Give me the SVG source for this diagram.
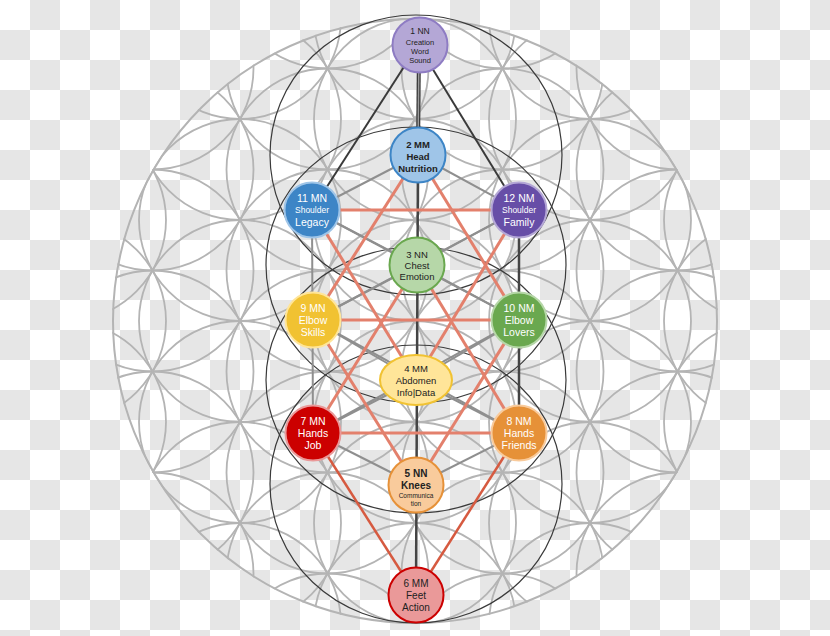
<svg xmlns="http://www.w3.org/2000/svg" width="830" height="636" viewBox="0 0 830 636">
<defs>
<pattern id="checker" x="0" y="0" width="60" height="60" patternUnits="userSpaceOnUse">
<rect x="0" y="0" width="60" height="60" fill="#ffffff"/>
<rect x="30" y="0" width="30" height="30" fill="#e6e6e6"/>
<rect x="0" y="30" width="30" height="30" fill="#e6e6e6"/>
</pattern>
<clipPath id="bound"><circle cx="415" cy="321" r="303"/></clipPath>
<style>
.fl circle{fill:none;stroke:#b4b4b4;stroke-width:1.8}
.dk{fill:none;stroke:#3a3a3a;stroke-width:1.2}
.cd{stroke:#444;stroke-width:2.5}
.cg{stroke:#8f8f8f;stroke-width:2}
.cs{stroke:#e3806c;stroke-width:3}
.cr{stroke:#d65a40;stroke-width:2.5}
text{font-family:"Liberation Sans","Open Sans",sans-serif;text-anchor:middle}
.w{fill:#ffffff}
.b{fill:#222222}
.bb{fill:#222222;font-weight:bold}
</style>
</defs>
<rect width="830" height="636" fill="url(#checker)"/>
<g id="flower" class="fl" clip-path="url(#bound)">
<circle cx="415" cy="18" r="101"/><circle cx="415" cy="119" r="101"/><circle cx="415" cy="220" r="101"/><circle cx="415" cy="321" r="101"/><circle cx="415" cy="422" r="101"/><circle cx="415" cy="523" r="101"/><circle cx="415" cy="624" r="101"/>
<circle cx="327.5" cy="-32.5" r="101"/><circle cx="327.5" cy="68.5" r="101"/><circle cx="327.5" cy="169.5" r="101"/><circle cx="327.5" cy="270.5" r="101"/><circle cx="327.5" cy="371.5" r="101"/><circle cx="327.5" cy="472.5" r="101"/><circle cx="327.5" cy="573.5" r="101"/><circle cx="327.5" cy="674.5" r="101"/>
<circle cx="502.5" cy="-32.5" r="101"/><circle cx="502.5" cy="68.5" r="101"/><circle cx="502.5" cy="169.5" r="101"/><circle cx="502.5" cy="270.5" r="101"/><circle cx="502.5" cy="371.5" r="101"/><circle cx="502.5" cy="472.5" r="101"/><circle cx="502.5" cy="573.5" r="101"/><circle cx="502.5" cy="674.5" r="101"/>
<circle cx="240" cy="18" r="101"/><circle cx="240" cy="119" r="101"/><circle cx="240" cy="220" r="101"/><circle cx="240" cy="321" r="101"/><circle cx="240" cy="422" r="101"/><circle cx="240" cy="523" r="101"/><circle cx="240" cy="624" r="101"/>
<circle cx="590" cy="18" r="101"/><circle cx="590" cy="119" r="101"/><circle cx="590" cy="220" r="101"/><circle cx="590" cy="321" r="101"/><circle cx="590" cy="422" r="101"/><circle cx="590" cy="523" r="101"/><circle cx="590" cy="624" r="101"/>
<circle cx="152.5" cy="68.5" r="101"/><circle cx="152.5" cy="169.5" r="101"/><circle cx="152.5" cy="270.5" r="101"/><circle cx="152.5" cy="371.5" r="101"/><circle cx="152.5" cy="472.5" r="101"/><circle cx="152.5" cy="573.5" r="101"/>
<circle cx="677.5" cy="68.5" r="101"/><circle cx="677.5" cy="169.5" r="101"/><circle cx="677.5" cy="270.5" r="101"/><circle cx="677.5" cy="371.5" r="101"/><circle cx="677.5" cy="472.5" r="101"/><circle cx="677.5" cy="573.5" r="101"/>
<circle cx="65" cy="220" r="101"/><circle cx="65" cy="321" r="101"/><circle cx="65" cy="422" r="101"/>
<circle cx="765" cy="220" r="101"/><circle cx="765" cy="321" r="101"/><circle cx="765" cy="422" r="101"/>
</g>
<circle cx="415" cy="321" r="302" fill="none" stroke="#b4b4b4" stroke-width="2"/>
<g id="dark-circles">
<ellipse class="dk" cx="416" cy="155" rx="146" ry="140"/>
<ellipse class="dk" cx="416" cy="265" rx="150" ry="138"/>
<ellipse class="dk" cx="416" cy="380" rx="150" ry="133"/>
<ellipse class="dk" cx="416" cy="484" rx="146" ry="139"/>
</g>
<g id="connectors">
<line class="cg" x1="418" y1="155" x2="312" y2="210"/>
<line class="cg" x1="418" y1="155" x2="519" y2="210"/>
<line class="cg" x1="312" y1="210" x2="417" y2="265"/>
<line class="cg" x1="519" y1="210" x2="417" y2="265"/>
<line class="cg" x1="417" y1="265" x2="313" y2="320"/>
<line class="cg" x1="417" y1="265" x2="519" y2="320"/>
<line class="cg" x1="313" y1="320" x2="416" y2="380"/>
<line class="cg" x1="519" y1="320" x2="416" y2="380"/>
<line class="cg" x1="416" y1="380" x2="313" y2="433"/>
<line class="cg" x1="416" y1="380" x2="519" y2="433"/>
<line class="cg" x1="313" y1="433" x2="416" y2="485"/>
<line class="cg" x1="519" y1="433" x2="416" y2="485"/>
<line class="cg" x1="312" y1="210" x2="519" y2="320"/>
<line class="cg" x1="519" y1="210" x2="313" y2="320"/>
<line class="cg" x1="313" y1="320" x2="519" y2="433"/>
<line class="cg" x1="519" y1="320" x2="313" y2="433"/>
<line class="cg" x1="312" y1="210" x2="313" y2="433"/>
<line class="cd" x1="519" y1="210" x2="519" y2="433"/>
<line stroke="#3a3a3a" stroke-width="4" x1="419" y1="45" x2="418" y2="155"/>
<line stroke="#9a9a9a" stroke-width="1.4" x1="419" y1="45" x2="418" y2="155"/>
<line class="cd" x1="418" y1="155" x2="416" y2="595"/>
<line class="dk" style="stroke-width:2" x1="418" y1="45" x2="312" y2="210"/>
<line class="dk" style="stroke-width:2" x1="418" y1="45" x2="519" y2="210"/>
<line class="cs" x1="312" y1="210" x2="519" y2="210"/>
<line class="cs" x1="313" y1="320" x2="519" y2="320"/>
<line class="cs" x1="313" y1="433" x2="519" y2="433"/>
<line class="cs" x1="312" y1="210" x2="416" y2="380"/>
<line class="cs" x1="519" y1="210" x2="416" y2="380"/>
<line class="cs" x1="418" y1="155" x2="313" y2="320"/>
<line class="cs" x1="418" y1="155" x2="519" y2="320"/>
<line class="cs" x1="313" y1="320" x2="416" y2="485"/>
<line class="cs" x1="519" y1="320" x2="416" y2="485"/>
<line class="cs" x1="313" y1="433" x2="417" y2="265"/>
<line class="cs" x1="519" y1="433" x2="417" y2="265"/>
<line class="cr" x1="313" y1="433" x2="416" y2="595"/>
<line class="cr" x1="519" y1="433" x2="416" y2="595"/>
</g>
<g id="n1"><circle cx="420" cy="45" r="27.5" fill="#b4a7d6" stroke="#8e7cc3" stroke-width="2"/>
<text class="b" x="420" y="34" font-size="8.5">1 NN</text><text class="b" x="420" y="45" font-size="7.5">Creation</text><text class="b" x="420" y="54" font-size="7.5">Word</text><text class="b" x="420" y="63" font-size="7.5">Sound</text></g>
<g id="n2"><circle cx="418" cy="155" r="27.5" fill="#9fc5e8" stroke="#3d85c6" stroke-width="2"/>
<text class="bb" x="418" y="148" font-size="9.5">2 MM</text><text class="bb" x="418" y="160" font-size="9.5">Head</text><text class="bb" x="418" y="172" font-size="9.5">Nutrition</text></g>
<g id="n11"><circle cx="312" cy="210" r="27.5" fill="#3d85c6" stroke="#9fc5e8" stroke-width="2"/>
<text class="w" x="312" y="202" font-size="10.5">11 MN</text><text class="w" x="312" y="213" font-size="8.5">Shoulder</text><text class="w" x="312" y="226" font-size="10.5">Legacy</text></g>
<g id="n12"><circle cx="519" cy="210" r="27.5" fill="#674ea7" stroke="#b4a7d6" stroke-width="2"/>
<text class="w" x="519" y="202" font-size="10.5">12 NM</text><text class="w" x="519" y="213" font-size="8.5">Shoulder</text><text class="w" x="519" y="226" font-size="10.5">Family</text></g>
<g id="n3"><circle cx="417" cy="265" r="27.5" fill="#b6d7a8" stroke="#6aa84f" stroke-width="2"/>
<text class="b" x="417" y="258" font-size="9.5">3 NN</text><text class="b" x="417" y="269" font-size="9.5">Chest</text><text class="b" x="417" y="280" font-size="9.5">Emotion</text></g>
<g id="n9"><circle cx="313" cy="320" r="27.5" fill="#f1c232" stroke="#ffe599" stroke-width="2"/>
<text class="w" x="313" y="312" font-size="10.5">9 MN</text><text class="w" x="313" y="324" font-size="10.5">Elbow</text><text class="w" x="313" y="336" font-size="10.5">Skills</text></g>
<g id="n10"><circle cx="519" cy="320" r="27.5" fill="#6aa84f" stroke="#b6d7a8" stroke-width="2"/>
<text class="w" x="519" y="312" font-size="10.5">10 NM</text><text class="w" x="519" y="324" font-size="10.5">Elbow</text><text class="w" x="519" y="336" font-size="10.5">Lovers</text></g>
<g id="n4"><ellipse cx="416" cy="380" rx="36" ry="25" fill="#ffe599" stroke="#f1c232" stroke-width="2"/>
<text class="b" x="416" y="372" font-size="9.5">4 MM</text><text class="b" x="416" y="384" font-size="9.5">Abdomen</text><text class="b" x="416" y="396" font-size="9.5">Info|Data</text></g>
<g id="n7"><circle cx="313" cy="433" r="27.5" fill="#cc0000" stroke="#ea9999" stroke-width="2"/>
<text class="w" x="313" y="425" font-size="10.5">7 MN</text><text class="w" x="313" y="437" font-size="10.5">Hands</text><text class="w" x="313" y="449" font-size="10.5">Job</text></g>
<g id="n8"><circle cx="519" cy="433" r="27.5" fill="#e69138" stroke="#f9cb9c" stroke-width="2"/>
<text class="w" x="519" y="425" font-size="10.5">8 NM</text><text class="w" x="519" y="437" font-size="10.5">Hands</text><text class="w" x="519" y="449" font-size="10.5">Friends</text></g>
<g id="n5"><circle cx="416" cy="485" r="27.5" fill="#f9cb9c" stroke="#e69138" stroke-width="2"/>
<text class="bb" x="416" y="477" font-size="10">5 NN</text><text class="bb" x="416" y="489" font-size="10">Knees</text><text class="b" x="416" y="498" font-size="6.5">Communica</text><text class="b" x="416" y="506" font-size="6.5">tion</text></g>
<g id="n6"><circle cx="416" cy="595" r="27.5" fill="#ea9999" stroke="#cc0000" stroke-width="2"/>
<text class="b" x="416" y="587" font-size="10">6 MM</text><text class="b" x="416" y="599" font-size="10">Feet</text><text class="b" x="416" y="611" font-size="10">Action</text></g>
</svg>
